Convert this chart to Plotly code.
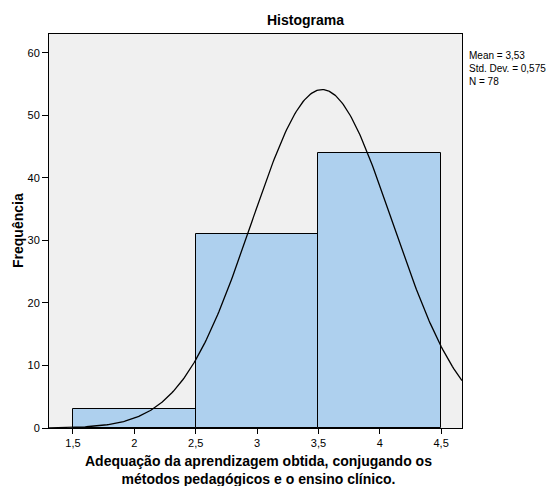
import numpy as np
import plotly.graph_objects as go

# Data
bin_centers = [2.0, 3.0, 4.0]
bin_width = 1.0
frequencies = [3, 31, 44]
mean_val = 3.53
std_val = 0.575
n_val = 78
x_tickvals = [1.5, 2, 2.5, 3, 3.5, 4, 4.5]
x_ticktext = ["1,5", "2", "2,5", "3", "3,5", "4", "4,5"]
y_tickvals = [0, 10, 20, 30, 40, 50, 60]

x_range = [1.305, 4.67]
y_range = [0, 63]

# Fitted normal curve from stated statistics
xc = np.linspace(x_range[0], x_range[1], 300)
yc = n_val * bin_width / (std_val * np.sqrt(2 * np.pi)) * np.exp(-0.5 * ((xc - mean_val) / std_val) ** 2)

FONT = "Arial, Liberation Sans, sans-serif"

fig = go.Figure()
fig.add_trace(go.Bar(
    x=bin_centers, y=frequencies, width=[bin_width] * len(bin_centers),
    marker=dict(color="rgb(174,208,238)", line=dict(color="black", width=1)),
    hoverinfo="skip", showlegend=False,
))
fig.add_trace(go.Scatter(
    x=xc, y=yc, mode="lines", line=dict(color="black", width=1.3),
    hoverinfo="skip", showlegend=False,
))

fig.update_layout(
    width=552, height=486,
    margin=dict(l=49, r=90, t=34, b=58),
    paper_bgcolor="white",
    plot_bgcolor="rgb(240,240,240)",
    font=dict(family=FONT, size=11, color="black"),
    bargap=0,
    showlegend=False,
)
fig.update_xaxes(
    range=x_range, tickvals=x_tickvals, ticktext=x_ticktext,
    showgrid=False, zeroline=False,
    showline=True, linecolor="black", linewidth=1, mirror=True,
    ticks="outside", ticklen=5, tickcolor="black",
    tickfont=dict(size=11, family=FONT),
)
fig.update_yaxes(
    range=y_range, tickvals=y_tickvals,
    showgrid=False, zeroline=False,
    showline=True, linecolor="black", linewidth=1, mirror=True,
    ticks="outside", ticklen=6, tickcolor="black",
    tickfont=dict(size=11, family=FONT),
)

fig.add_annotation(
    text="<b>Histograma</b>", xref="paper", yref="paper",
    x=(305 - 49) / (552 - 49 - 90), y=1, yshift=14,
    showarrow=False, font=dict(size=14, family=FONT), xanchor="center", yanchor="middle",
)
fig.add_annotation(
    text="<b>Frequência</b>", xref="paper", yref="paper",
    x=0, xshift=-31, y=0.5, textangle=-90,
    showarrow=False, font=dict(size=14, family=FONT), xanchor="center", yanchor="middle",
)
fig.add_annotation(
    text="<b>Adequação da aprendizagem obtida, conjugando os<br>métodos pedagógicos e o ensino clínico.</b>",
    xref="paper", yref="paper", x=(258 - 49) / (552 - 49 - 90), y=0, yshift=-42,
    showarrow=False, font=dict(size=14, family=FONT), xanchor="center", yanchor="middle",
)
fig.add_annotation(
    text=f"Mean = {str(mean_val).replace('.', ',')}<br>Std. Dev. = {str(std_val).replace('.', ',')}<br>N = {n_val}",
    xref="paper", yref="paper", x=1, xshift=5, y=1, yshift=-14,
    showarrow=False, font=dict(size=10, family=FONT), xanchor="left", yanchor="top", align="left",
)

fig.write_html(
    "out.html",
    config={"displayModeBar": False},
    post_script="document.body.style.margin='0';document.body.style.overflow='hidden';",
)
